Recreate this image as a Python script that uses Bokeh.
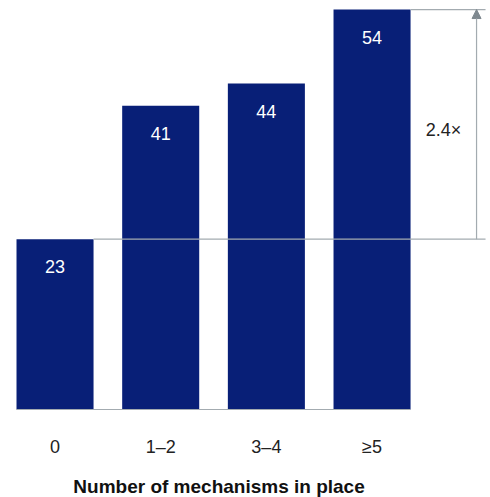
from bokeh.plotting import figure
from bokeh.models import Range1d, ColumnDataSource, Arrow, NormalHead
from bokeh.core.properties import value
from bokeh.embed import file_html
from bokeh.resources import INLINE

categories = ["0", "1\u20132", "3\u20134", "\u22655"]
values = [23, 41, 44, 54]
ratio_label = "2.4\u00d7"
x_title = "Number of mechanisms in place"

BAR = "#081f77"
GRAY = "#a3abb0"
ARROW = "#7f8990"
FONT = "Liberation Sans"

xs = list(range(len(values)))
W = 0.729
src = ColumnDataSource(dict(x=xs, top=values, lab=[str(v) for v in values],
                            laby=[v - 3.74 for v in values], cat=categories,
                            caty=[-5.0] * len(values)))

p = figure(width=490, height=497, output_backend="svg", toolbar_location=None,
           x_range=Range1d(-0.516, 4.121), y_range=Range1d(-11.88, 55.22),
           min_border=0, min_border_left=0, min_border_right=0,
           min_border_top=0, min_border_bottom=0)
p.axis.visible = False
p.grid.visible = False
p.outline_line_color = None
p.background_fill_color = "white"
p.border_fill_color = "white"

p.vbar(x="x", top="top", bottom=0, width=W, source=src, color=BAR, line_color=None)

# baseline
p.segment(x0=[-W / 2], y0=[0], x1=[xs[-1] + W / 2], y1=[0], line_color=GRAY, line_width=1.2)
# reference lines
right = 4.074
p.segment(x0=[W / 2], y0=[values[0]], x1=[right], y1=[values[0]], line_color=GRAY, line_width=1.2)
p.segment(x0=[xs[-1] + W / 2], y0=[values[-1]], x1=[right], y1=[values[-1]], line_color=GRAY, line_width=1.2)
p.add_layout(Arrow(x_start=3.989, y_start=values[0], x_end=3.989, y_end=values[-1],
                   line_color=GRAY, line_width=1.2,
                   end=NormalHead(size=9, fill_color=ARROW, line_color=ARROW)))
p.text(x=[3.676], y=[37.8], text=[ratio_label], text_font=value(FONT), text_font_size="18px",
       text_color="#222222", text_align="center", text_baseline="middle")

p.text(x="x", y="laby", text="lab", source=src, text_font=value(FONT), text_font_size="18px",
       text_color="white", text_align="center", text_baseline="middle")
p.text(x="x", y="caty", text="cat", source=src, text_font=value(FONT), text_font_size="18px",
       text_color="#222222", text_align="center", text_baseline="middle")
p.text(x=[1.552], y=[-10.33], text=[x_title], text_font=value(FONT), text_font_size="19px",
       text_font_style="bold", text_color="#111111", text_align="center", text_baseline="middle")

open("out.html", "w").write(file_html(p, INLINE))
